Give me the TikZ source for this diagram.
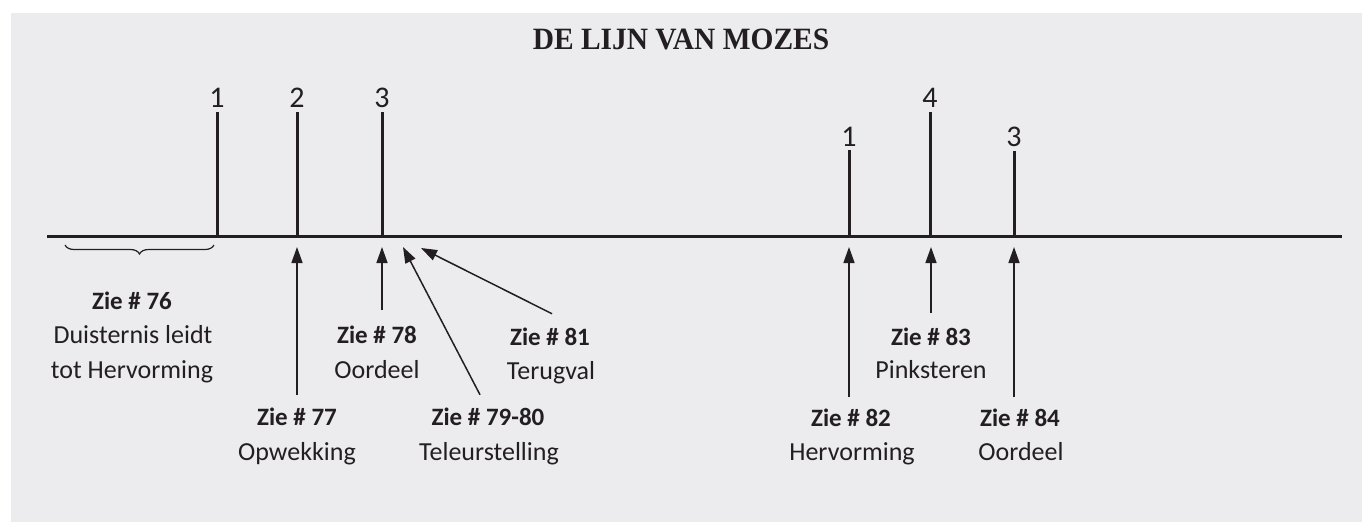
\documentclass[tikz,border=0pt]{standalone}
\usepackage{fontspec}
\newfontfamily\labfont{Carlito}
\newfontfamily\titlefont{Liberation Serif}
\usetikzlibrary{arrows.meta,decorations.pathreplacing}
\definecolor{bg}{RGB}{236,236,238}
\definecolor{ink}{RGB}{35,31,32}
\begin{document}
\begin{tikzpicture}[x=1pt,y=-1pt,
  axisline/.style={ink,line width=3pt},
  tickline/.style={ink,line width=3pt,shorten >=4pt},
  ticklab/.style={font=\labfont\fontsize{30}{30}\selectfont,text=ink,inner sep=0pt},
  zie/.style={font=\labfont\bfseries\fontsize{25}{25}\selectfont,text=ink,inner sep=0pt,anchor=base},
  nm/.style={font=\labfont\fontsize{26}{26}\selectfont,text=ink,inner sep=0pt,anchor=base},
  arr/.style={ink,line width=1.5pt,-{Triangle[length=16pt,width=11pt]}},
  bracestyle/.style={ink,line width=1.2pt,decorate,decoration={brace,mirror,amplitude=9pt}},
  ]
\useasboundingbox (0,0) rectangle (1362,522);
\fill[white] (0,0) rectangle (1362,522);
\fill[bg] (11,13) rectangle (1362,522);

% title
\node[font=\titlefont\bfseries\fontsize{31}{31}\selectfont,text=ink,inner sep=0pt,anchor=base]
  (title) at (681,49) {\scalebox{0.95}[1]{DE LIJN VAN MOZES}};

% axis
\coordinate (L) at (47,236);
\coordinate (R) at (1342,236);
\draw[axisline] (L) -- (R);

% tick base points
\coordinate (b1) at (217,236);
\coordinate (b2) at (297,236);
\coordinate (b3) at (382,236);
\coordinate (b4) at (849,236);
\coordinate (b5) at (930,236);
\coordinate (b6) at (1014,236);

% tick labels
\node[ticklab] (n1) at (217,98) {1};
\node[ticklab] (n2) at (297,98) {2};
\node[ticklab] (n3) at (382,98) {3};
\node[ticklab] (n4) at (849,136.5) {1};
\node[ticklab] (n5) at (930,98) {4};
\node[ticklab] (n6) at (1014,136.5) {3};

\draw[tickline] (b1) -- (n1.south);
\draw[tickline] (b2) -- (n2.south);
\draw[tickline] (b3) -- (n3.south);
\draw[tickline] (b4) -- (n4.south);
\draw[tickline] (b5) -- (n5.south);
\draw[tickline] (b6) -- (n6.south);

% brace
\coordinate (brL) at (65,245);
\coordinate (brR) at (214,245);
\draw[bracestyle] (brL) -- (brR);

% labels
\node[zie] (z76) at (132,309.5) {Zie \# 76};
\node[nm] (d76a) at (133,343.5) {Duisternis leidt};
\node[nm] (d76b) at (132,378.5) {tot Hervorming};

\node[zie] (z77) at (297,425.5) {Zie \# 77};
\node[nm] (d77) at (297,460.5) {Opwekking};

\node[zie] (z78) at (377,343.5) {Zie \# 78};
\node[nm] (d78) at (377,378) {Oordeel};

\node[zie] (z79) at (488,425.5) {Zie \# 79-80};
\node[nm] (d79) at (489,460.5) {Teleurstelling};

\node[zie] (z81) at (550,345.5) {Zie \# 81};
\node[nm] (d81) at (551,379.5) {Terugval};

\node[zie] (z82) at (851,426.5) {Zie \# 82};
\node[nm] (d82) at (852,460.5) {Hervorming};

\node[zie] (z83) at (931,345.5) {Zie \# 83};
\node[nm] (d83) at (931,378.5) {Pinksteren};

\node[zie] (z84) at (1020,426.5) {Zie \# 84};
\node[nm] (d84) at (1021,460.5) {Oordeel};

% arrow targets
\coordinate (a77) at (297,247);
\coordinate (a78) at (382,247);
\coordinate (a79) at (403,247);
\coordinate (a81) at (421,248);
\coordinate (a82) at (849,247);
\coordinate (a83) at (931,247);
\coordinate (a84) at (1014,247);

% arrows
\draw[arr] (z77.north |- 0,395) -- (a77);
\draw[arr] (a78 |- 0,310) -- (a78);
\draw[arr] ([xshift=-8pt,yshift=13pt]z79.north) -- (a79);
\draw[arr] ([xshift=2pt,yshift=14pt]z81.north) -- (a81);
\draw[arr] (a82 |- 0,397) -- (a82);
\draw[arr] (z83.north |- 0,313) -- (a83);
\draw[arr] (a84 |- 0,397) -- (a84);
\end{tikzpicture}
\end{document}
